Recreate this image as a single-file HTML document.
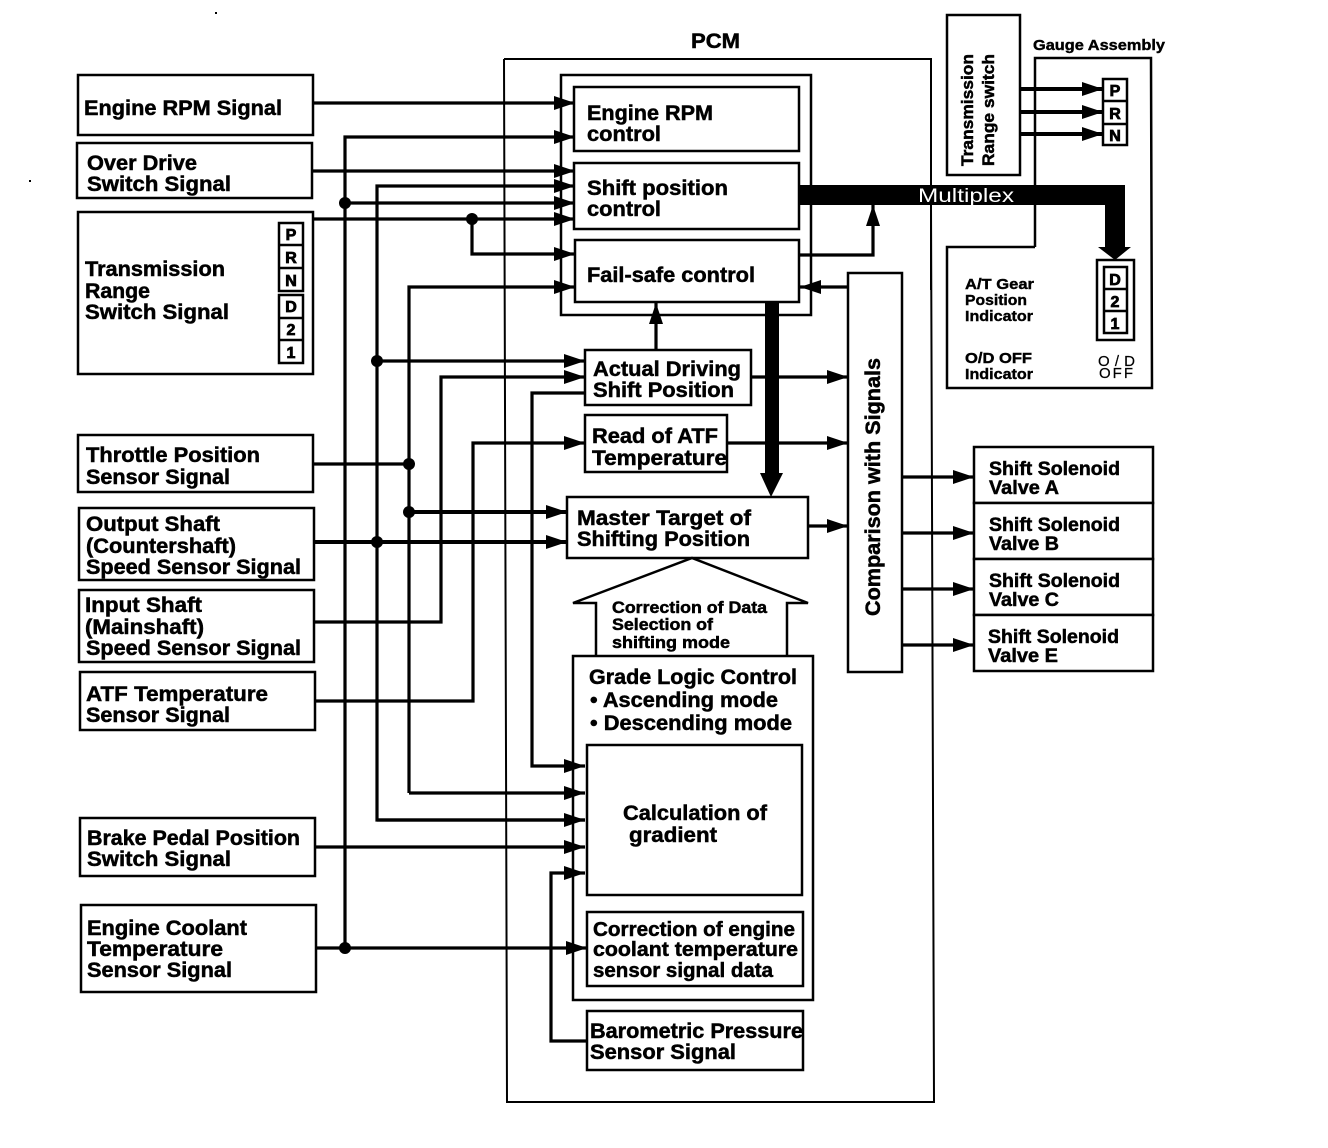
<!DOCTYPE html>
<html><head><meta charset="utf-8"><style>
html,body{margin:0;padding:0;background:#fff;width:1328px;height:1148px;overflow:hidden}
svg{display:block}
text{font-family:"Liberation Sans",sans-serif;font-weight:bold;fill:#000;font-size:21px;stroke:#000;stroke-width:.5px}
.b{fill:#fff;stroke:#000;stroke-width:2.5}
.n{fill:none;stroke:#000;stroke-width:2.5}
.l{fill:none;stroke:#000;stroke-width:3.2}
.a{fill:none;stroke:#000;stroke-width:3.2;marker-end:url(#h);stroke-linejoin:miter}
.s{font-size:15px;stroke-width:.4px}
.g{font-size:17px}
.k{font-size:16px;stroke-width:.8px}
</style></head><body>
<svg width="1328" height="1148" viewBox="0 0 1328 1148" xmlns="http://www.w3.org/2000/svg">
<defs><marker id="h" markerUnits="userSpaceOnUse" markerWidth="22" markerHeight="16" refX="21" refY="8" orient="auto"><path d="M0,1 L21,8 L0,15 Z" fill="#000"/></marker></defs>

<!-- specks -->
<rect x="215" y="12" width="2" height="2"/><rect x="29" y="180" width="2" height="2"/>

<!-- PCM frame -->
<path d="M504,59 H931 V290" class="n" style="stroke-width:2"/>
<path d="M504,59 L507,1102 H934 L931,205" class="n" style="stroke-width:2"/>

<!-- Left boxes -->
<rect class="b" x="78" y="75" width="235" height="60"/>
<rect class="b" x="77" y="143" width="235" height="55"/>
<rect class="b" x="78" y="212" width="235" height="162"/>
<rect class="b" x="78" y="435" width="235" height="57"/>
<rect class="b" x="79" y="508" width="235" height="72"/>
<rect class="b" x="79" y="590" width="235" height="72"/>
<rect class="b" x="80" y="672" width="235" height="58"/>
<rect class="b" x="80" y="818" width="235" height="58"/>
<rect class="b" x="81" y="905" width="235" height="87"/>

<!-- PRN in left box -->
<rect class="b" x="279" y="223" width="24" height="68"/>
<path class="n" d="M279,245 H303 M279,268 H303"/>
<rect class="b" x="279" y="295" width="24" height="68"/>
<path class="n" d="M279,318 H303 M279,340 H303"/>

<!-- Inner PCM -->
<rect class="b" x="561" y="75" width="250" height="240"/>
<rect class="b" x="574" y="87" width="225" height="64"/>
<rect class="b" x="574" y="163" width="225" height="66"/>
<rect class="b" x="575" y="240" width="224" height="62"/>
<rect class="b" x="585" y="350" width="166" height="55"/>
<rect class="b" x="585" y="415" width="142" height="57"/>
<rect class="b" x="567" y="497" width="241" height="61"/>
<path class="n" d="M596,656 V603 H573 L692,558 L808,603 H787 V656"/>
<rect class="b" x="573" y="656" width="240" height="344"/>
<rect class="b" x="587" y="745" width="215" height="150"/>
<rect class="b" x="587" y="912" width="216" height="74"/>
<rect class="b" x="587" y="1011" width="216" height="59"/>
<rect class="b" x="848" y="273" width="54" height="399"/>

<!-- Solenoids -->
<rect class="b" x="974" y="447" width="179" height="56"/>
<rect class="b" x="974" y="503" width="179" height="56"/>
<rect class="b" x="974" y="559" width="179" height="56"/>
<rect class="b" x="974" y="615" width="179" height="56"/>

<!-- Gauge assembly -->
<path class="n" d="M1035,247 V58 H1151 L1152,388 H947 V247 H1035"/>
<rect class="b" x="947" y="15" width="73" height="160"/>
<rect class="b" x="1103" y="79" width="24" height="66"/>
<path class="n" d="M1103,101 H1127 M1103,124 H1127"/>
<rect class="b" x="1097" y="260" width="37" height="80"/>
<rect class="b" x="1104" y="267" width="23" height="66"/>
<path class="n" d="M1104,289 H1127 M1104,311 H1127"/>

<!-- Connectors -->
<path class="a" d="M313,103 H575"/>
<path class="a" d="M345,948 V137 H575"/>
<path class="a" d="M313,171 H575"/>
<path class="a" d="M585,820 H377 V186 H575"/>
<path class="a" d="M377,820 H585"/>
<path class="a" d="M345,203 H575"/>
<path class="a" d="M313,219 H575"/>
<path class="a" d="M472,219 V254 H575"/>
<path class="a" d="M409,793 V287 H575"/>
<path class="a" d="M409,793 H585"/>
<path class="l" d="M313,464 H409"/>
<path class="a" d="M409,512 H567" style="stroke-width:4"/>
<path class="a" d="M313,542 H567" style="stroke-width:4"/>
<path class="a" d="M377,361 H585"/>
<path class="a" d="M313,622 H441 V377 H585"/>
<path class="a" d="M315,701 H473 V443 H585"/>
<path class="a" d="M585,393 H532 V766 H585"/>
<path class="a" d="M315,847 H585"/>
<path class="a" d="M587,1041 H551 V873 H585"/>
<path class="a" d="M316,948 H587"/>
<path class="a" d="M656,350 V303"/>
<path class="a" d="M799,255 H873 V205"/>
<path class="a" d="M848,287 H800"/>
<path class="a" d="M751,377 H848"/>
<path class="a" d="M727,443 H848"/>
<path class="a" d="M808,526 H848"/>
<path class="a" d="M902,477 H974"/>
<path class="a" d="M902,533 H974"/>
<path class="a" d="M902,589 H974"/>
<path class="a" d="M902,645 H974"/>
<path class="a" d="M1020,89 H1103" style="stroke-width:4"/>
<path class="a" d="M1020,112 H1103" style="stroke-width:4"/>
<path class="a" d="M1020,134 H1103" style="stroke-width:4"/>

<!-- Dots -->
<circle cx="345" cy="203" r="6"/><circle cx="345" cy="948" r="6"/>
<circle cx="377" cy="361" r="6"/><circle cx="377" cy="542" r="6"/>
<circle cx="409" cy="464" r="6"/><circle cx="409" cy="512" r="6"/>
<circle cx="472" cy="219" r="6"/>

<!-- Thick paths -->
<path d="M800,185 H1125 V247 H1131 L1115,260 L1098,247 H1105 V205 H800 Z" fill="#000"/>
<path d="M765,302 H779 V473 H783 L771,497 L760,473 H765 Z" fill="#000"/>
<text x="918" y="202" textLength="96" lengthAdjust="spacingAndGlyphs" style="fill:#fff;stroke:none;font-weight:normal;font-size:19px">Multiplex</text>

<!-- Left labels -->
<text x="84" y="115" textLength="198" lengthAdjust="spacingAndGlyphs">Engine RPM Signal</text>
<text x="87" y="170" textLength="110" lengthAdjust="spacingAndGlyphs">Over Drive</text>
<text x="87" y="191" textLength="144" lengthAdjust="spacingAndGlyphs">Switch Signal</text>
<text x="85" y="276" textLength="140" lengthAdjust="spacingAndGlyphs">Transmission</text>
<text x="85" y="298" textLength="65" lengthAdjust="spacingAndGlyphs">Range</text>
<text x="85" y="319" textLength="144" lengthAdjust="spacingAndGlyphs">Switch Signal</text>
<text x="86" y="462" textLength="174" lengthAdjust="spacingAndGlyphs">Throttle Position</text>
<text x="86" y="484" textLength="144" lengthAdjust="spacingAndGlyphs">Sensor Signal</text>
<text x="86" y="531" textLength="134" lengthAdjust="spacingAndGlyphs">Output Shaft</text>
<text x="86" y="553" textLength="150" lengthAdjust="spacingAndGlyphs">(Countershaft)</text>
<text x="86" y="574" textLength="215" lengthAdjust="spacingAndGlyphs">Speed Sensor Signal</text>
<text x="85" y="612" textLength="117" lengthAdjust="spacingAndGlyphs">Input Shaft</text>
<text x="85" y="634" textLength="119" lengthAdjust="spacingAndGlyphs">(Mainshaft)</text>
<text x="86" y="655" textLength="215" lengthAdjust="spacingAndGlyphs">Speed Sensor Signal</text>
<text x="86" y="701" textLength="182" lengthAdjust="spacingAndGlyphs">ATF Temperature</text>
<text x="86" y="722" textLength="144" lengthAdjust="spacingAndGlyphs">Sensor Signal</text>
<text x="87" y="845" textLength="213" lengthAdjust="spacingAndGlyphs">Brake Pedal Position</text>
<text x="87" y="866" textLength="144" lengthAdjust="spacingAndGlyphs">Switch Signal</text>
<text x="87" y="935" textLength="160" lengthAdjust="spacingAndGlyphs">Engine Coolant</text>
<text x="87" y="956" textLength="136" lengthAdjust="spacingAndGlyphs">Temperature</text>
<text x="87" y="977" textLength="145" lengthAdjust="spacingAndGlyphs">Sensor Signal</text>

<!-- PRN letters -->
<text class="k" x="291" y="240" text-anchor="middle">P</text>
<text class="k" x="291" y="263" text-anchor="middle">R</text>
<text class="k" x="291" y="286" text-anchor="middle">N</text>
<text class="k" x="291" y="312" text-anchor="middle">D</text>
<text class="k" x="291" y="335" text-anchor="middle">2</text>
<text class="k" x="291" y="358" text-anchor="middle">1</text>
<text class="k" x="1115" y="96" text-anchor="middle">P</text>
<text class="k" x="1115" y="119" text-anchor="middle">R</text>
<text class="k" x="1115" y="141" text-anchor="middle">N</text>
<text class="k" x="1115" y="285" text-anchor="middle">D</text>
<text class="k" x="1115" y="307" text-anchor="middle">2</text>
<text class="k" x="1115" y="329" text-anchor="middle">1</text>

<!-- PCM labels -->
<text x="691" y="48" textLength="49" lengthAdjust="spacingAndGlyphs">PCM</text>
<text x="587" y="120" textLength="126" lengthAdjust="spacingAndGlyphs">Engine RPM</text>
<text x="587" y="141" textLength="74" lengthAdjust="spacingAndGlyphs">control</text>
<text x="587" y="195" textLength="141" lengthAdjust="spacingAndGlyphs">Shift position</text>
<text x="587" y="216" textLength="74" lengthAdjust="spacingAndGlyphs">control</text>
<text x="587" y="282" textLength="168" lengthAdjust="spacingAndGlyphs">Fail-safe control</text>
<text x="593" y="376" textLength="148" lengthAdjust="spacingAndGlyphs">Actual Driving</text>
<text x="593" y="397" textLength="141" lengthAdjust="spacingAndGlyphs">Shift Position</text>
<text x="592" y="443" textLength="126" lengthAdjust="spacingAndGlyphs">Read of ATF</text>
<text x="592" y="465" textLength="135" lengthAdjust="spacingAndGlyphs">Temperature</text>
<text x="577" y="525" textLength="174" lengthAdjust="spacingAndGlyphs">Master Target of</text>
<text x="577" y="546" textLength="173" lengthAdjust="spacingAndGlyphs">Shifting Position</text>
<text class="g" x="612" y="613" textLength="155" lengthAdjust="spacingAndGlyphs">Correction of Data</text>
<text class="g" x="612" y="630" textLength="101" lengthAdjust="spacingAndGlyphs">Selection of</text>
<text class="g" x="612" y="648" textLength="118" lengthAdjust="spacingAndGlyphs">shifting mode</text>
<text x="589" y="684" textLength="208" lengthAdjust="spacingAndGlyphs">Grade Logic Control</text>
<text x="590" y="707" textLength="188" lengthAdjust="spacingAndGlyphs">• Ascending mode</text>
<text x="590" y="730" textLength="202" lengthAdjust="spacingAndGlyphs">• Descending mode</text>
<text x="623" y="820" textLength="144" lengthAdjust="spacingAndGlyphs">Calculation of</text>
<text x="629" y="842" textLength="88" lengthAdjust="spacingAndGlyphs">gradient</text>
<text x="593" y="936" textLength="202" lengthAdjust="spacingAndGlyphs" style="font-size:20px">Correction of engine</text>
<text x="593" y="956" textLength="205" lengthAdjust="spacingAndGlyphs" style="font-size:20px">coolant temperature</text>
<text x="593" y="977" textLength="180" lengthAdjust="spacingAndGlyphs" style="font-size:20px">sensor signal data</text>
<text x="590" y="1038" textLength="213" lengthAdjust="spacingAndGlyphs">Barometric Pressure</text>
<text x="590" y="1059" textLength="146" lengthAdjust="spacingAndGlyphs">Sensor Signal</text>
<text transform="translate(880,616) rotate(-90)" textLength="258" lengthAdjust="spacingAndGlyphs">Comparison with Signals</text>

<!-- Solenoid labels -->
<text style="font-size:19px" x="989" y="475" textLength="131" lengthAdjust="spacingAndGlyphs">Shift Solenoid</text>
<text style="font-size:19px" x="989" y="494" textLength="70" lengthAdjust="spacingAndGlyphs">Valve A</text>
<text style="font-size:19px" x="989" y="531" textLength="131" lengthAdjust="spacingAndGlyphs">Shift Solenoid</text>
<text style="font-size:19px" x="989" y="550" textLength="70" lengthAdjust="spacingAndGlyphs">Valve B</text>
<text style="font-size:19px" x="989" y="587" textLength="131" lengthAdjust="spacingAndGlyphs">Shift Solenoid</text>
<text style="font-size:19px" x="989" y="606" textLength="70" lengthAdjust="spacingAndGlyphs">Valve C</text>
<text style="font-size:19px" x="988" y="643" textLength="131" lengthAdjust="spacingAndGlyphs">Shift Solenoid</text>
<text style="font-size:19px" x="988" y="662" textLength="70" lengthAdjust="spacingAndGlyphs">Valve E</text>

<!-- Gauge labels -->
<text class="s" x="1033" y="50" textLength="132" lengthAdjust="spacingAndGlyphs">Gauge Assembly</text>
<text class="g" transform="translate(973,166) rotate(-90)" textLength="112" lengthAdjust="spacingAndGlyphs">Transmission</text>
<text class="g" transform="translate(994,166) rotate(-90)" textLength="112" lengthAdjust="spacingAndGlyphs">Range switch</text>
<text class="s" x="965" y="289" textLength="69" lengthAdjust="spacingAndGlyphs">A/T Gear</text>
<text class="s" x="965" y="305" textLength="62" lengthAdjust="spacingAndGlyphs">Position</text>
<text class="s" x="965" y="321" textLength="68" lengthAdjust="spacingAndGlyphs">Indicator</text>
<text class="s" x="965" y="363" textLength="67" lengthAdjust="spacingAndGlyphs">O/D OFF</text>
<text class="s" x="965" y="379" textLength="68" lengthAdjust="spacingAndGlyphs">Indicator</text>
<text x="1098" y="366" textLength="37" lengthAdjust="spacing" style="font-size:15px;font-weight:normal;stroke-width:.2px">O/D</text>
<text x="1099" y="378" textLength="34" lengthAdjust="spacing" style="font-size:15px;font-weight:normal;stroke-width:.2px">OFF</text>
</svg>
</body></html>
